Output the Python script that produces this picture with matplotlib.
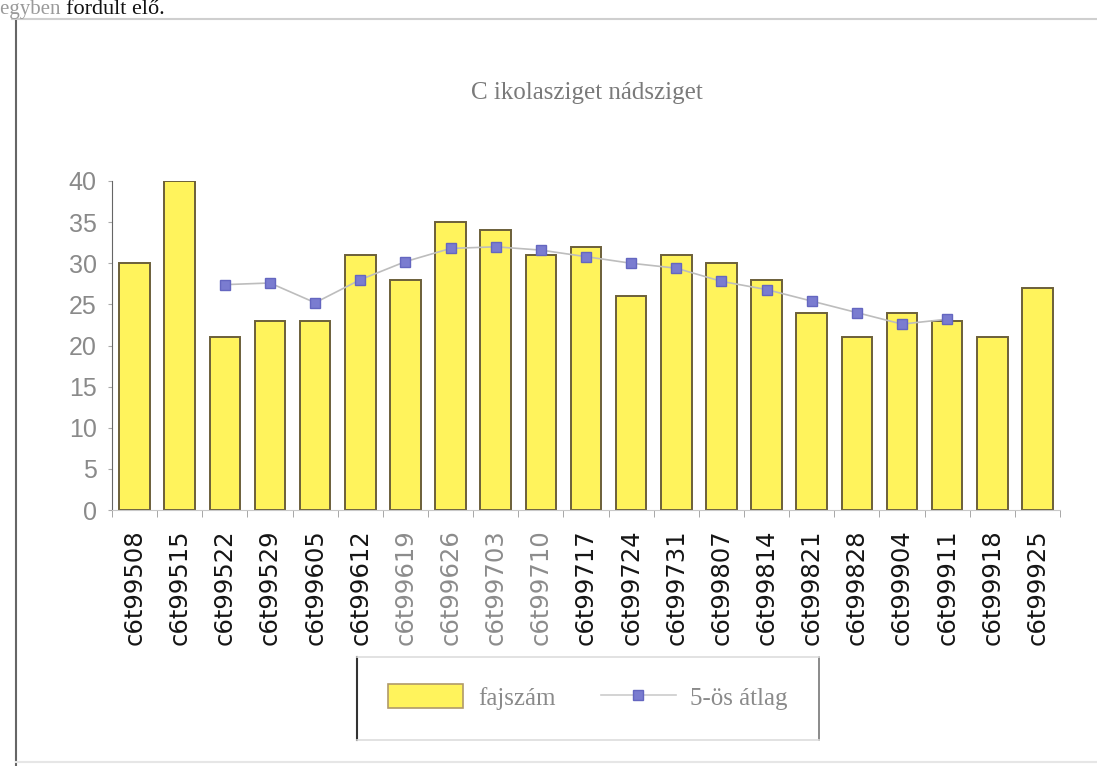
import matplotlib
matplotlib.use("Agg")
import matplotlib.pyplot as plt
from matplotlib.lines import Line2D
from matplotlib.patches import Patch
import numpy as np

# mintavételi napok és fajszámok
samples = ["c6t99508", "c6t99515", "c6t99522", "c6t99529", "c6t99605", "c6t99612",
           "c6t99619", "c6t99626", "c6t99703", "c6t99710", "c6t99717", "c6t99724",
           "c6t99731", "c6t99807", "c6t99814", "c6t99821", "c6t99828", "c6t99904",
           "c6t99911", "c6t99918", "c6t99925"]
fajszam = [30, 40, 21, 23, 23, 31, 28, 35, 34, 31, 32, 26, 31, 30, 28, 24, 21, 24, 23, 21, 27]
# 5-ös mozgóátlag, a 3. mintától a 19.-ig
atlag = [27.4, 27.6, 25.2, 28.0, 30.2, 31.8, 32.0, 31.6, 30.8, 30.0, 29.4,
         27.8, 26.8, 25.4, 24.0, 22.6, 23.2]
atlag_start = 2
y_ticks = [0, 5, 10, 15, 20, 25, 30, 35, 40]

W, H = 1097, 766
fig = plt.figure(figsize=(W / 100, H / 100), dpi=100)
fig.patch.set_facecolor("white")

# keret a dokumentumban
fig.add_artist(Line2D([12 / W, 1], [1 - 19 / H, 1 - 19 / H], color="#cfcfcf", lw=1.5))
fig.add_artist(Line2D([16 / W, 16 / W], [1 - 21 / H, 0], color="#666666", lw=1.5))
fig.add_artist(Line2D([16 / W, 1], [1 - 762 / H, 1 - 762 / H], color="#e6e6e6", lw=1.5))

# előző bekezdés vége
t1 = fig.text(0.0, 1 - 14 / H, "egyben ", family="Liberation Serif", fontsize=15,
              color="#9a9a9a", va="baseline", ha="left")
fig.canvas.draw()
bb = t1.get_window_extent()
fig.text(bb.x1 / W, 1 - 14 / H, "fordult elő.", family="Liberation Serif", fontsize=16,
         color="#111111", va="baseline", ha="left")

fig.text(0.535, 1 - 93 / H, "C ikolasziget nádsziget", family="Liberation Serif",
         fontsize=18, color="#7a7a7a", ha="center", va="center")

ax = fig.add_axes([112 / W, 1 - 510 / H, (1060 - 112) / W, (510 - 181) / H])
x = np.arange(len(samples))
ax.bar(x, fajszam, width=0.68, color="#fff35c", edgecolor="#6b5f3a", linewidth=1.4,
       zorder=2)
xa = np.arange(atlag_start, atlag_start + len(atlag))
ax.plot(xa, atlag, color="#bdbdbd", lw=1.2, marker="s", markersize=7,
        markerfacecolor="#7a7cd0", markeredgecolor="#6466c0", zorder=3)

ax.set_xlim(-0.5, len(samples) - 0.5)
ax.set_ylim(0, 40)
ax.set_yticks(y_ticks)
ax.set_yticklabels([str(v) for v in y_ticks], family="Liberation Sans", fontsize=18,
                   color="#8a8a8a")
ax.tick_params(axis="y", length=3, color="#aaaaaa", pad=8)

ax.set_xticks(x)
ax.set_xticklabels(samples, rotation=90, family="DejaVu Sans", fontsize=17.5,
                   color="#151515")
for i, lab in enumerate(ax.get_xticklabels()):
    if 6 <= i <= 9:
        lab.set_color("#8c8c8c")
ax.tick_params(axis="x", length=0, pad=14)
ax.set_xticks(np.arange(-0.5, len(samples)), minor=True)
ax.tick_params(axis="x", which="minor", length=5, color="#999999", direction="out")

for s in ["top", "right"]:
    ax.spines[s].set_visible(False)
ax.spines["left"].set_color("#666666")
ax.spines["bottom"].set_color("#c8c8c8")
ax.patch.set_alpha(0)

# jelmagyarázat kézzel rajzolt kerettel
lx0, lx1, ly0, ly1 = 357, 819, 657, 740
fig.add_artist(Line2D([lx0 / W, lx0 / W], [1 - ly0 / H, 1 - ly1 / H], color="#333333", lw=1.5))
fig.add_artist(Line2D([lx1 / W, lx1 / W], [1 - ly0 / H, 1 - ly1 / H], color="#777777", lw=1.2))
fig.add_artist(Line2D([lx0 / W, lx1 / W], [1 - ly0 / H, 1 - ly0 / H], color="#dddddd", lw=1.2))
fig.add_artist(Line2D([lx0 / W, lx1 / W], [1 - ly1 / H, 1 - ly1 / H], color="#dddddd", lw=1.2))

handles = [Patch(facecolor="#fff35c", edgecolor="#b09a6a", linewidth=1.2),
           Line2D([], [], color="#cccccc", lw=1.2, marker="s", markersize=7,
                  markerfacecolor="#7a7cd0", markeredgecolor="#6466c0")]
fig.legend(handles, ["fajszám", "5-ös átlag"], loc="center",
           bbox_to_anchor=((lx0 + lx1) / 2 / W, 1 - 697 / H), ncol=2, frameon=False,
           prop={"family": "Liberation Serif", "size": 18}, labelcolor="#8a8a8a",
           handlelength=3.0, handleheight=1.1, handletextpad=0.6, columnspacing=1.8,
           numpoints=1)

fig.savefig("out.png", dpi=100)
